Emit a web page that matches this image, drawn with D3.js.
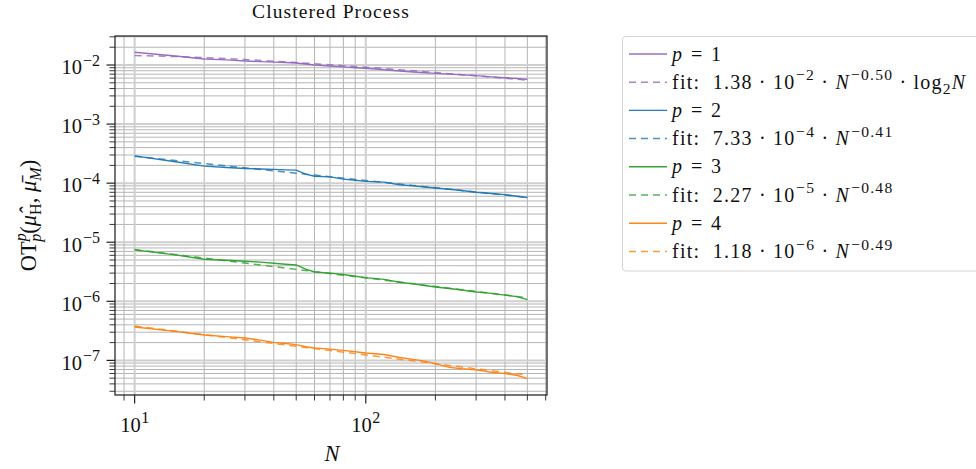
<!DOCTYPE html>
<html>
<head>
<meta charset="utf-8">
<script src="https://cdn.jsdelivr.net/npm/d3@7"></script>
<style>
  body { margin: 0; background: #fff; }
  svg { display: block; }
  text { font-family: "Liberation Serif", "DejaVu Serif", serif; fill: #111; white-space: pre; }
</style>
</head>
<body>
<svg id="chart" width="976" height="469"></svg>
<script>
// Sample sizes N and the measured OT_p^p distances for p = 1..4
const sampleN = [10, 15, 20, 25, 30, 35, 40, 45, 50, 55, 60, 70, 80, 90, 100, 120, 140, 160, 180, 200, 230, 260, 300, 350, 400, 450, 500];
const otP1 = [0.0164, 0.0142, 0.01265, 0.0122, 0.0117, 0.0114, 0.0112, 0.0110, 0.0108, 0.0104, 0.0100, 0.0096, 0.0093, 0.0090, 0.00879, 0.0083, 0.0079, 0.0076, 0.0074, 0.00723, 0.0070, 0.0068, 0.0066, 0.0063, 0.0061, 0.0059, 0.00571];
const otP2 = [2.90e-4, 2.30e-4, 1.94e-4, 1.84e-4, 1.77e-4, 1.74e-4, 1.71e-4, 1.68e-4, 1.66e-4, 1.42e-4, 1.31e-4, 1.28e-4, 1.17e-4, 1.12e-4, 1.07e-4, 1.04e-4, 9.4e-5, 9.0e-5, 8.6e-5, 8.3e-5, 7.9e-5, 7.5e-5, 7.03e-5, 6.7e-5, 6.4e-5, 6.0e-5, 5.73e-5];
const otP3 = [7.41e-6, 6.1e-6, 5.15e-6, 4.95e-6, 4.76e-6, 4.6e-6, 4.4e-6, 4.25e-6, 4.12e-6, 3.5e-6, 3.14e-6, 3.0e-6, 2.85e-6, 2.65e-6, 2.52e-6, 2.35e-6, 2.1e-6, 1.97e-6, 1.85e-6, 1.75e-6, 1.65e-6, 1.55e-6, 1.44e-6, 1.36e-6, 1.27e-6, 1.2e-6, 1.07e-6];
const otP4 = [3.67e-7, 3.1e-7, 2.69e-7, 2.52e-7, 2.39e-7, 2.2e-7, 2.02e-7, 1.93e-7, 1.85e-7, 1.7e-7, 1.62e-7, 1.55e-7, 1.48e-7, 1.4e-7, 1.33e-7, 1.26e-7, 1.12e-7, 1.04e-7, 9.7e-8, 8.8e-8, 7.6e-8, 7.2e-8, 6.9e-8, 6.3e-8, 5.96e-8, 5.6e-8, 4.9e-8];

// Power-law fits: c * N^a (times log2 N where flagged)
const orders = [1, 2, 3, 4];
const fitCoef = [1.38e-2, 7.33e-4, 2.27e-5, 1.18e-6];
const fitExp = [-0.50, -0.41, -0.48, -0.49];
const fitLog2 = [true, false, false, false];
const colors = ["#9467bd", "#1f77b4", "#2ca02c", "#ff7f0e"];

const xMajorTicks = [10, 100];
const yMajorTicks = [1e-2, 1e-3, 1e-4, 1e-5, 1e-6, 1e-7];

const title = "Clustered Process";

// ---------------------------------------------------------------
const measured = [otP1, otP2, otP3, otP4];
const fitValue = (i, n) => fitCoef[i] * Math.pow(n, fitExp[i]) * (fitLog2[i] ? Math.log2(n) : 1);
const fits = orders.map((_, i) => sampleN.map(n => fitValue(i, n)));

const svg = d3.select("#chart");
svg.append("rect").attr("width", 976).attr("height", 469).attr("fill", "#fff");

const box = { left: 115, right: 547, top: 36, bottom: 395 };

function paddedLogDomain(vals) {
  const lo = Math.log10(d3.min(vals)), hi = Math.log10(d3.max(vals));
  const pad = (hi - lo) * 0.05;
  return [Math.pow(10, lo - pad), Math.pow(10, hi + pad)];
}

const x = d3.scaleLog().domain(paddedLogDomain(sampleN)).range([box.left, box.right]);
const y = d3.scaleLog().domain(paddedLogDomain(measured.flat().concat(fits.flat()))).range([box.bottom, box.top]);

function minorTicks(scale) {
  const [a, b] = scale.domain();
  const out = [];
  for (let e = Math.floor(Math.log10(a)); e <= Math.ceil(Math.log10(b)); e++) {
    for (let k = 2; k <= 9; k++) {
      const v = k * Math.pow(10, e);
      if (v >= a && v <= b) out.push(v);
    }
  }
  return out;
}
const xMinor = minorTicks(x), yMinor = minorTicks(y);

// rich text with super/subscripts
function rich(sel, parts, size, scriptScale = 0.78) {
  let cur = 0;
  parts.forEach(p => {
    const target = p.sup ? -size * 0.42 : p.sub ? size * 0.26 : 0;
    const ts = sel.append("tspan").attr("dy", (target - cur).toFixed(2)).text(p.t);
    if (p.sup || p.sub) ts.attr("font-size", (size * scriptScale).toFixed(1));
    if (p.it) ts.attr("font-style", "italic");
    if (p.dx) ts.attr("dx", p.dx);
    cur = target;
  });
  return sel;
}
// widen a text run to a given span by spreading letter spacing
function spreadTo(sel, span) {
  const node = sel.node();
  const w = node.getComputedTextLength();
  const n = node.textContent.length;
  if (n > 1 && span > w) sel.attr("letter-spacing", ((span - w) / n).toFixed(2));
}
const minus = s => s.replace("-", "\u2212");

// grid
const grid = svg.append("g");
grid.selectAll(".gxm").data(xMinor).join("line")
  .attr("x1", d => x(d)).attr("x2", d => x(d)).attr("y1", box.top).attr("y2", box.bottom)
  .attr("stroke", "#b5b5b5").attr("stroke-width", 1);
grid.selectAll(".gym").data(yMinor).join("line")
  .attr("y1", d => y(d)).attr("y2", d => y(d)).attr("x1", box.left).attr("x2", box.right)
  .attr("stroke", "#b5b5b5").attr("stroke-width", 1);
grid.selectAll(".gxM").data(xMajorTicks).join("line")
  .attr("x1", d => x(d)).attr("x2", d => x(d)).attr("y1", box.top).attr("y2", box.bottom)
  .attr("stroke", "#cfcfcf").attr("stroke-width", 2);
grid.selectAll(".gyM").data(yMajorTicks).join("line")
  .attr("y1", d => y(d)).attr("y2", d => y(d)).attr("x1", box.left).attr("x2", box.right)
  .attr("stroke", "#cfcfcf").attr("stroke-width", 2);

// curves
const line = d3.line().x(d => x(d[0])).y(d => y(d[1]));
const plotArea = svg.append("g");
orders.forEach((p, i) => {
  plotArea.append("path")
    .datum(sampleN.map((n, j) => [n, measured[i][j]]))
    .attr("d", line).attr("fill", "none")
    .attr("stroke", colors[i]).attr("stroke-width", 1.4).attr("stroke-opacity", 0.95);
  plotArea.append("path")
    .datum(sampleN.map((n, j) => [n, fits[i][j]]))
    .attr("d", line).attr("fill", "none")
    .attr("stroke", colors[i]).attr("stroke-width", 1.5).attr("stroke-opacity", 0.8)
    .attr("stroke-dasharray", "7,5");
});

// frame
svg.append("rect").attr("x", box.left).attr("y", box.top)
  .attr("width", box.right - box.left).attr("height", box.bottom - box.top)
  .attr("fill", "none").attr("stroke", "#222").attr("stroke-width", 1.25);

// ticks
const ticks = svg.append("g").attr("stroke", "#222");
ticks.selectAll(".txm").data(xMinor).join("line")
  .attr("x1", d => x(d)).attr("x2", d => x(d)).attr("y1", box.bottom).attr("y2", box.bottom + 5.5).attr("stroke-width", 0.9);
ticks.selectAll(".txM").data(xMajorTicks).join("line")
  .attr("x1", d => x(d)).attr("x2", d => x(d)).attr("y1", box.bottom).attr("y2", box.bottom + 8.5).attr("stroke-width", 1.2);
ticks.selectAll(".tym").data(yMinor).join("line")
  .attr("y1", d => y(d)).attr("y2", d => y(d)).attr("x1", box.left).attr("x2", box.left - 5.5).attr("stroke-width", 0.9);
ticks.selectAll(".tyM").data(yMajorTicks).join("line")
  .attr("y1", d => y(d)).attr("y2", d => y(d)).attr("x1", box.left).attr("x2", box.left - 8.5).attr("stroke-width", 1.2);

// tick labels
const tickSize = 20.5;
xMajorTicks.forEach(v => {
  const t = svg.append("text").attr("x", x(v)).attr("y", 431.5)
    .attr("text-anchor", "middle").attr("font-size", tickSize);
  rich(t, [{ t: "10" }, { t: minus(String(Math.round(Math.log10(v)))), sup: true, dx: 0.5 }], tickSize);
});
yMajorTicks.forEach(v => {
  const t = svg.append("text").attr("x", 100).attr("y", y(v) + 9.3)
    .attr("text-anchor", "end").attr("font-size", tickSize);
  rich(t, [{ t: "10" }, { t: minus(String(Math.round(Math.log10(v)))), sup: true, dx: 1 }], tickSize);
});

// title and axis labels
svg.append("text").attr("x", (box.left + box.right) / 2).attr("y", 17.5)
  .attr("text-anchor", "middle").attr("font-size", 19.5).attr("letter-spacing", 1.1).text(title);
svg.append("text").attr("x", (box.left + box.right) / 2 + 1).attr("y", 460.5)
  .attr("text-anchor", "middle").attr("font-size", 22.5).attr("font-style", "italic").text("N");
const yl = svg.append("text").attr("transform", `translate(35.5,${(box.top + box.bottom) / 2}) rotate(-90)`)
  .attr("text-anchor", "middle").attr("font-size", 22.5);
rich(yl, [
  { t: "OT" }, { t: "p", sup: true, it: true }, { t: "p", sub: true, it: true, dx: -8.5 },
  { t: "(" }, { t: "\u03bc\u0302", it: true }, { t: "H", sub: true }, { t: ", " },
  { t: "\u03bc\u0304", it: true }, { t: "M", sub: true, it: true }, { t: ")" }
], 22.5, 0.72);

// legend
const lg = svg.append("g");
lg.append("rect").attr("x", 622.5).attr("y", 36.5).attr("width", 420).attr("height", 234.5)
  .attr("rx", 3).attr("fill", "#fff").attr("fill-opacity", 0.8)
  .attr("stroke", "#d4d4d4").attr("stroke-width", 1);
const legSize = 20;
orders.forEach((p, i) => {
  const e = Math.floor(Math.log10(fitCoef[i]));
  const m = (fitCoef[i] / Math.pow(10, e)).toFixed(2);
  const fitParts = [{ t: "fit:  " + m + " \u00b7 10" }, { t: minus(String(e)), sup: true, dx: 0.5 },
    { t: " \u00b7 " }, { t: "N", it: true }, { t: minus(fitExp[i].toFixed(2)), sup: true, dx: 1 }];
  if (fitLog2[i]) fitParts.push({ t: " \u00b7 log" }, { t: "2", sub: true }, { t: "N", it: true });
  const rows = [
    { dashed: false, parts: [{ t: "p", it: true }, { t: " = " + p }], span: 51 },
    { dashed: true, parts: fitParts, span: fitLog2[i] ? 293 : 220 }
  ];
  rows.forEach((r, k) => {
    const cy = 54 + (i * 2 + k) * 28.2;
    lg.append("line").attr("x1", 629).attr("x2", 667).attr("y1", cy).attr("y2", cy)
      .attr("stroke", colors[i]).attr("stroke-width", r.dashed ? 1.5 : 1.4)
      .attr("stroke-opacity", r.dashed ? 0.8 : 0.95)
      .attr("stroke-dasharray", r.dashed ? "7,5" : null);
    const t = lg.append("text").attr("x", 672).attr("y", cy + 6.5).attr("font-size", legSize);
    rich(t, r.parts, legSize);
    spreadTo(t, r.span);
  });
});
</script>
</body>
</html>
